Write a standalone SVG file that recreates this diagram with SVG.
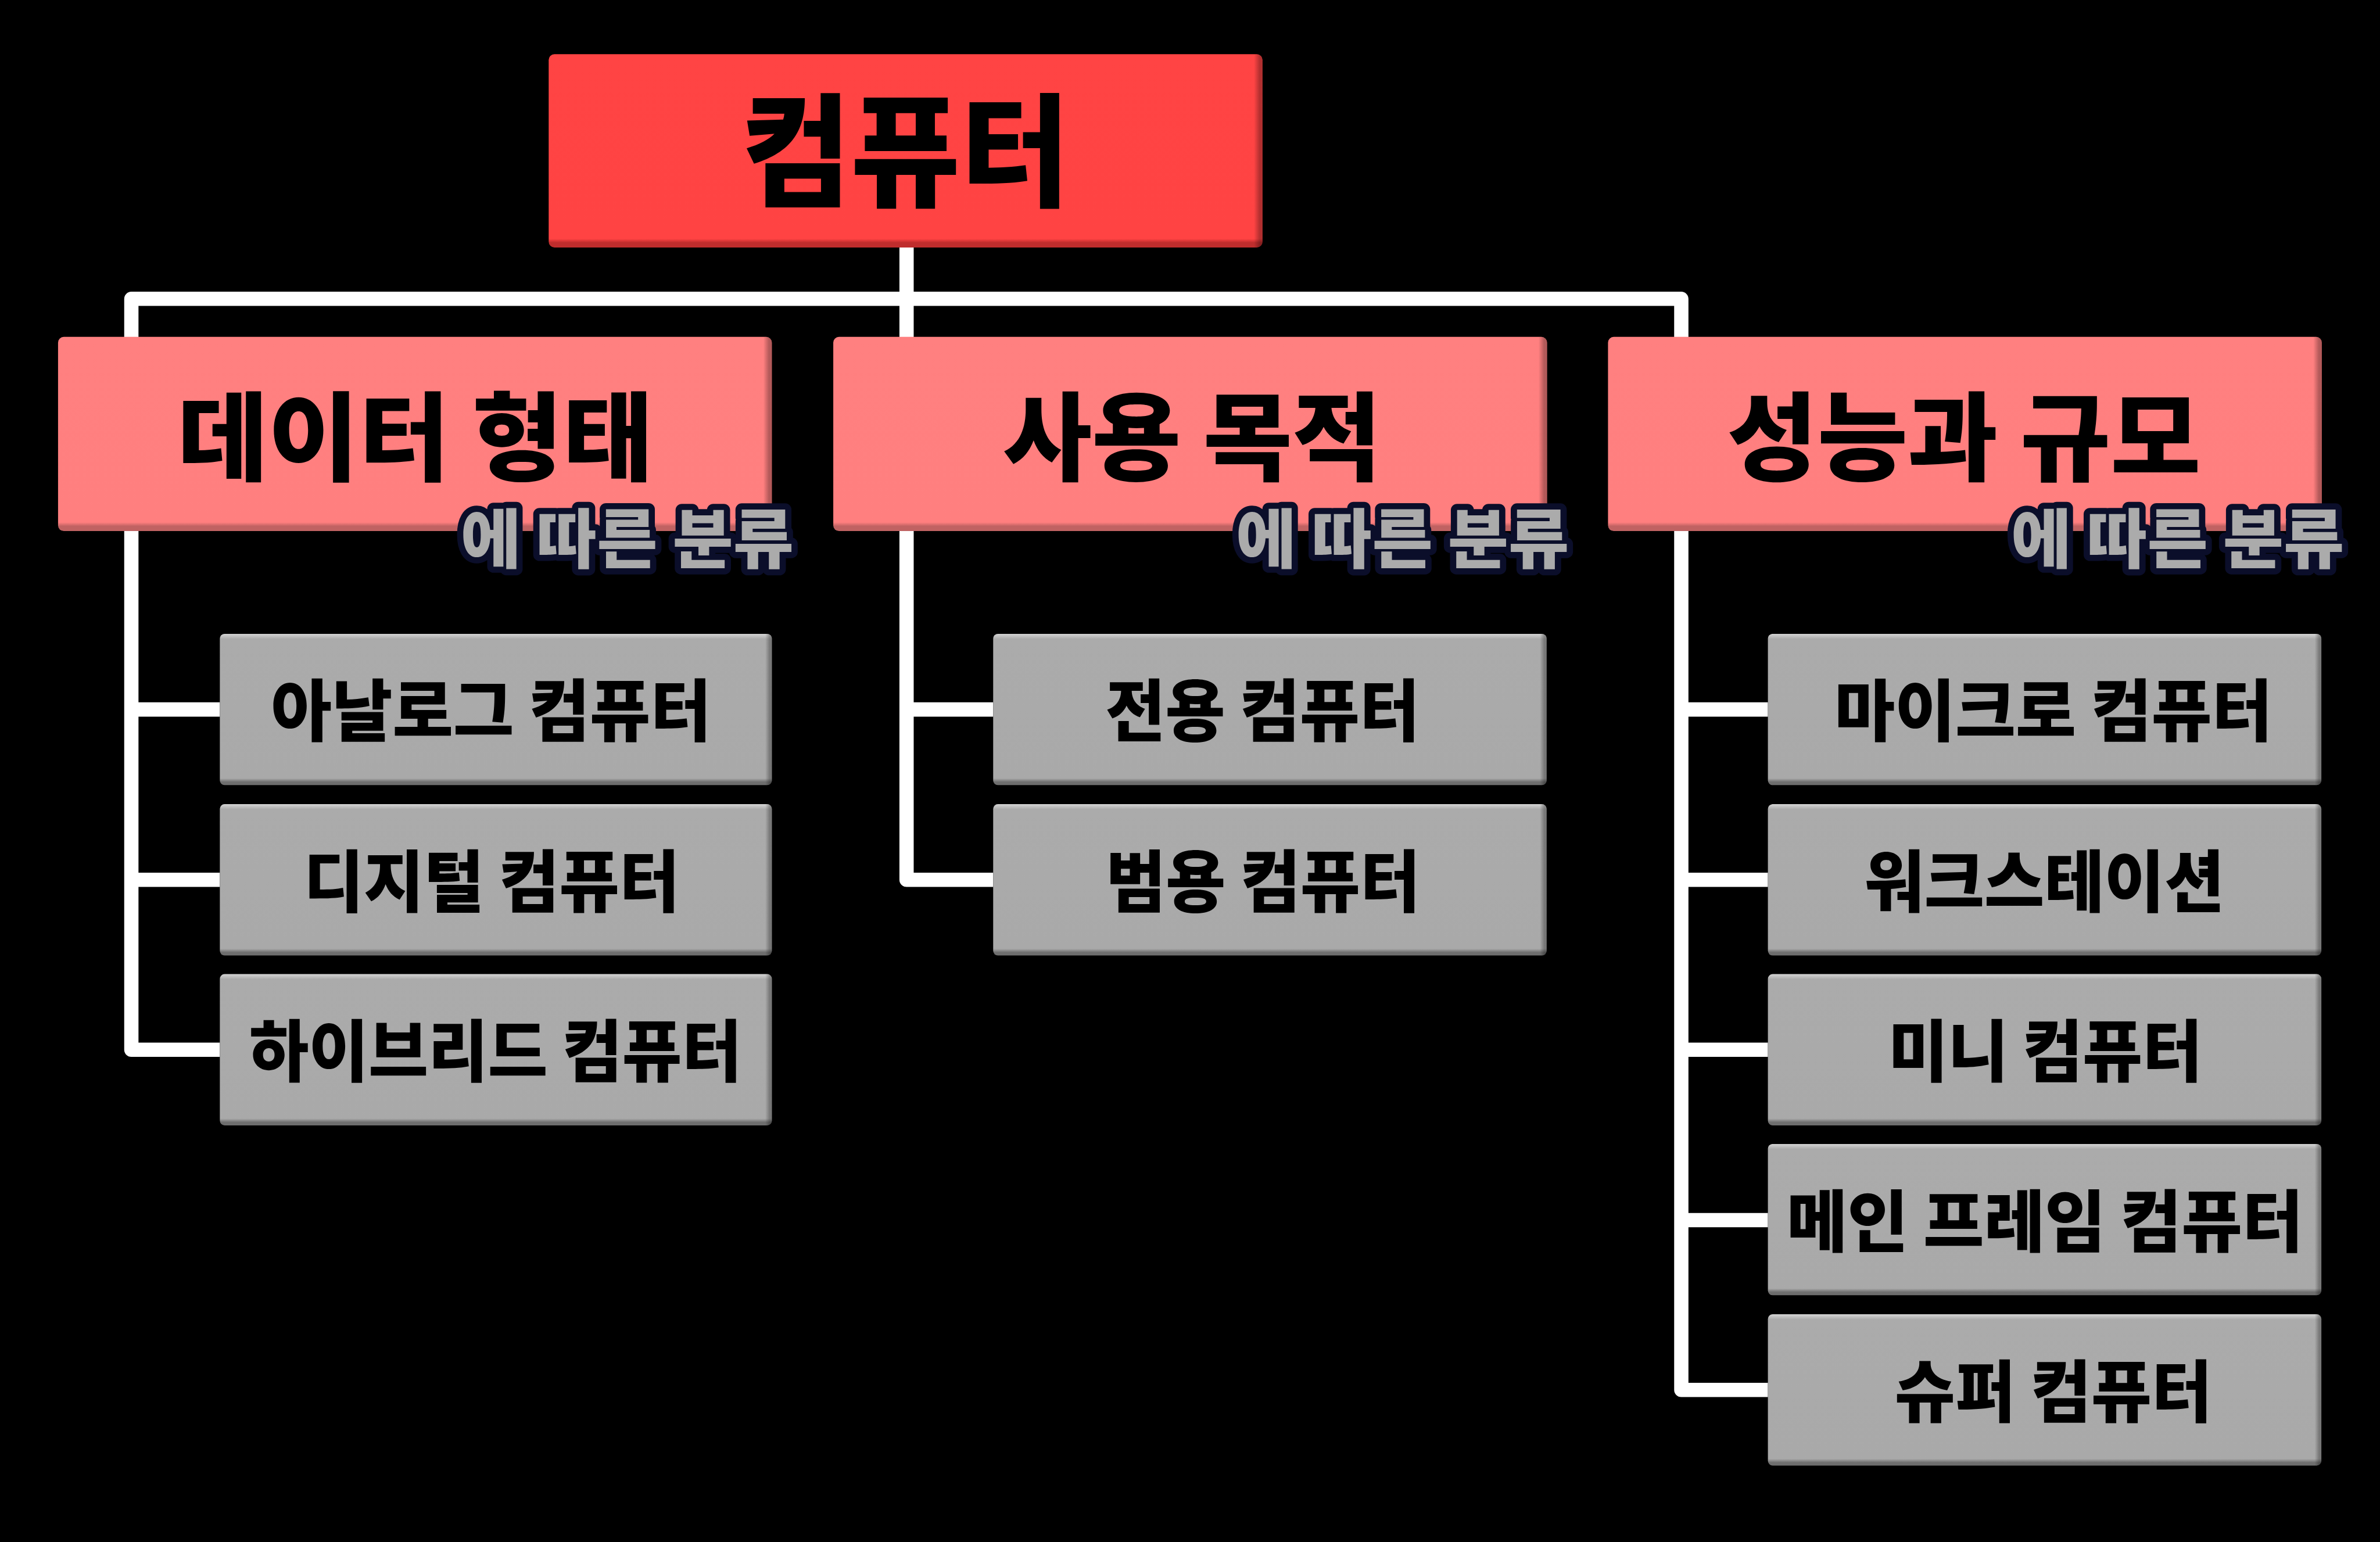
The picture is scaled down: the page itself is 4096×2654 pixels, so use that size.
<svg xmlns="http://www.w3.org/2000/svg" width="4096" height="2654" viewBox="0 0 4096 2654">
<defs>
<style>
.t{font-family:"Noto Sans CJK KR","Noto Sans",sans-serif;font-weight:900;fill:#000;text-anchor:middle;dominant-baseline:central;}
.t1{font-size:258px;}
.t2{font-size:202px;}
.t3{font-size:142px;}
.sub{font-size:136px;fill:#ababab;stroke:#0b0e2a;stroke-width:26px;stroke-linejoin:round;paint-order:stroke;}
.conn{fill:none;stroke:#ffffff;stroke-width:30;stroke-linejoin:round;}
</style>
<linearGradient id="gTop" x1="0" y1="0" x2="0" y2="1">
<stop offset="0" stop-color="#ff4444"/>
<stop offset="0.955" stop-color="#ff4343"/>
<stop offset="0.975" stop-color="#bf2d2d"/>
<stop offset="1" stop-color="#bf2d2d"/>
</linearGradient>
<linearGradient id="gMid" x1="0" y1="0" x2="0" y2="1">
<stop offset="0" stop-color="#ff8080"/>
<stop offset="0.955" stop-color="#ff7f7f"/>
<stop offset="0.975" stop-color="#c06262"/>
<stop offset="1" stop-color="#c06262"/>
</linearGradient>
<linearGradient id="gLeaf" x1="0" y1="0" x2="0" y2="1">
<stop offset="0" stop-color="#d4d4d4"/>
<stop offset="0.035" stop-color="#ababab"/>
<stop offset="0.955" stop-color="#a9a9a9"/>
<stop offset="0.98" stop-color="#6e6e6e"/>
<stop offset="1" stop-color="#6e6e6e"/>
</linearGradient>
<linearGradient id="gRight" x1="0" y1="0" x2="1" y2="0">
<stop offset="0" stop-color="#000" stop-opacity="0"/>
<stop offset="0.988" stop-color="#000" stop-opacity="0"/>
<stop offset="0.996" stop-color="#000" stop-opacity="0.3"/>
<stop offset="1" stop-color="#000" stop-opacity="0.3"/>
</linearGradient>
</defs>
<rect x="0" y="0" width="4096" height="2654" fill="#000"/>
<g transform="scale(0.819)">
<g id="connectors">
<path class="conn" d="M462,2206 H276 V628 H3533 V2921 H3715"/>
<path class="conn" d="M276,1491 H462 M276,1849 H462"/>
<path class="conn" d="M1905,520 V1849 H2087 M1905,1491 H2087"/>
<path class="conn" d="M3533,1491 H3715 M3533,1849 H3715 M3533,2206 H3715 M3533,2564 H3715"/>
</g>
<g id="root">
<rect x="1153" y="114" width="1500" height="406" rx="12" fill="url(#gTop)"/>
<rect x="1153" y="114" width="1500" height="406" rx="12" fill="url(#gRight)"/>
<text class="t t1" x="1903" y="302" textLength="690" lengthAdjust="spacingAndGlyphs">컴퓨터</text>
</g>
<g id="cat-data">
<rect x="122" y="708" width="1500" height="408" rx="12" fill="url(#gMid)"/>
<rect x="122" y="708" width="1500" height="408" rx="12" fill="url(#gRight)"/>
<text class="t t2" x="873" y="906" textLength="1000" lengthAdjust="spacingAndGlyphs">데이터 형태</text>
</g>
<g id="cat-purpose">
<rect x="1751" y="708" width="1500" height="408" rx="12" fill="url(#gMid)"/>
<rect x="1751" y="708" width="1500" height="408" rx="12" fill="url(#gRight)"/>
<text class="t t2" x="2505" y="906" textLength="795" lengthAdjust="spacingAndGlyphs">사용 목적</text>
</g>
<g id="cat-scale">
<rect x="3379" y="708" width="1500" height="408" rx="12" fill="url(#gMid)"/>
<rect x="3379" y="708" width="1500" height="408" rx="12" fill="url(#gRight)"/>
<text class="t t2" x="4127" y="906" textLength="995" lengthAdjust="spacingAndGlyphs">성능과 규모</text>
</g>
<g id="leaf-analog">
<rect x="462" y="1332" width="1160" height="318" rx="10" fill="url(#gLeaf)"/>
<rect x="462" y="1332" width="1160" height="318" rx="10" fill="url(#gRight)"/>
<text class="t t3" x="1032" y="1484" textLength="925" lengthAdjust="spacingAndGlyphs">아날로그 컴퓨터</text>
</g>
<g id="leaf-digital">
<rect x="462" y="1690" width="1160" height="318" rx="10" fill="url(#gLeaf)"/>
<rect x="462" y="1690" width="1160" height="318" rx="10" fill="url(#gRight)"/>
<text class="t t3" x="1033" y="1842" textLength="790" lengthAdjust="spacingAndGlyphs">디지털 컴퓨터</text>
</g>
<g id="leaf-hybrid">
<rect x="462" y="2047" width="1160" height="318" rx="10" fill="url(#gLeaf)"/>
<rect x="462" y="2047" width="1160" height="318" rx="10" fill="url(#gRight)"/>
<text class="t t3" x="1041" y="2199" textLength="1035" lengthAdjust="spacingAndGlyphs">하이브리드 컴퓨터</text>
</g>
<g id="leaf-special">
<rect x="2087" y="1332" width="1163" height="318" rx="10" fill="url(#gLeaf)"/>
<rect x="2087" y="1332" width="1163" height="318" rx="10" fill="url(#gRight)"/>
<text class="t t3" x="2653" y="1484" textLength="660" lengthAdjust="spacingAndGlyphs">전용 컴퓨터</text>
</g>
<g id="leaf-general">
<rect x="2087" y="1690" width="1163" height="318" rx="10" fill="url(#gLeaf)"/>
<rect x="2087" y="1690" width="1163" height="318" rx="10" fill="url(#gRight)"/>
<text class="t t3" x="2654" y="1842" textLength="660" lengthAdjust="spacingAndGlyphs">범용 컴퓨터</text>
</g>
<g id="leaf-micro">
<rect x="3715" y="1332" width="1163" height="318" rx="10" fill="url(#gLeaf)"/>
<rect x="3715" y="1332" width="1163" height="318" rx="10" fill="url(#gRight)"/>
<text class="t t3" x="4315" y="1484" textLength="920" lengthAdjust="spacingAndGlyphs">마이크로 컴퓨터</text>
</g>
<g id="leaf-workstation">
<rect x="3715" y="1690" width="1163" height="318" rx="10" fill="url(#gLeaf)"/>
<rect x="3715" y="1690" width="1163" height="318" rx="10" fill="url(#gRight)"/>
<text class="t t3" x="4296" y="1842" textLength="757" lengthAdjust="spacingAndGlyphs">워크스테이션</text>
</g>
<g id="leaf-mini">
<rect x="3715" y="2047" width="1163" height="318" rx="10" fill="url(#gLeaf)"/>
<rect x="3715" y="2047" width="1163" height="318" rx="10" fill="url(#gRight)"/>
<text class="t t3" x="4298" y="2199" textLength="660" lengthAdjust="spacingAndGlyphs">미니 컴퓨터</text>
</g>
<g id="leaf-mainframe">
<rect x="3715" y="2404" width="1163" height="318" rx="10" fill="url(#gLeaf)"/>
<rect x="3715" y="2404" width="1163" height="318" rx="10" fill="url(#gRight)"/>
<text class="t t3" x="4297" y="2557" textLength="1085" lengthAdjust="spacingAndGlyphs">메인 프레임 컴퓨터</text>
</g>
<g id="leaf-super">
<rect x="3715" y="2762" width="1163" height="318" rx="10" fill="url(#gLeaf)"/>
<rect x="3715" y="2762" width="1163" height="318" rx="10" fill="url(#gRight)"/>
<text class="t t3" x="4315" y="2914" textLength="667" lengthAdjust="spacingAndGlyphs">슈퍼 컴퓨터</text>
</g>
<g id="subtitles">
<text class="t sub" x="1318" y="1124" textLength="700" lengthAdjust="spacingAndGlyphs">에 따른 분류</text>
<text class="t sub" x="2947" y="1124" textLength="700" lengthAdjust="spacingAndGlyphs">에 따른 분류</text>
<text class="t sub" x="4576" y="1124" textLength="700" lengthAdjust="spacingAndGlyphs">에 따른 분류</text>
</g>
</g>
</svg>
